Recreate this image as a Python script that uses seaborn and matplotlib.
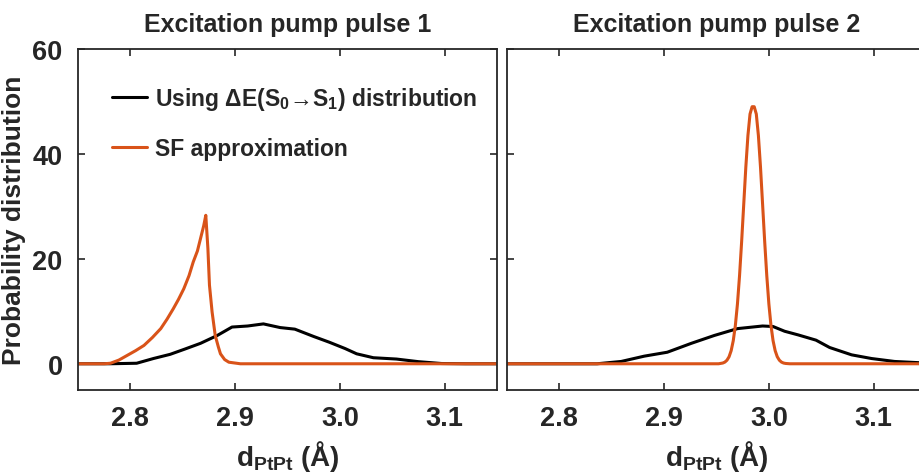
import numpy as np
import pandas as pd
import matplotlib
matplotlib.use("Agg")
import matplotlib.pyplot as plt
import seaborn as sns

# ---- data ----
p1_dist_x = [2.75, 2.78, 2.806, 2.822, 2.838, 2.852, 2.867, 2.883, 2.897, 2.912, 2.927,
             2.943, 2.957, 2.975, 2.990, 3.005, 3.016, 3.032, 3.054, 3.075, 3.097, 3.12, 3.15]
p1_dist_y = [0, 0, 0.1, 1.0, 1.8, 2.8, 3.9, 5.4, 7.0, 7.2, 7.6,
             6.9, 6.6, 5.2, 4.1, 2.9, 1.9, 1.15, 0.9, 0.4, 0.05, 0, 0]

p1_sf_x = [2.75, 2.775, 2.781, 2.789, 2.797, 2.805, 2.813, 2.821, 2.829, 2.835, 2.841,
           2.846, 2.851, 2.856, 2.860, 2.864, 2.867, 2.870, 2.872,
           2.874, 2.8755, 2.878, 2.881, 2.884, 2.886, 2.890, 2.894, 2.905, 3.15]
p1_sf_y = [0, 0, 0.1, 0.7, 1.6, 2.5, 3.5, 5.0, 6.7, 8.5, 10.5,
           12.3, 14.3, 16.8, 19.4, 21.5, 23.9, 26.3, 28.3,
           22.0, 15.0, 9.9, 5.4, 3.2, 1.9, 0.8, 0.3, 0, 0]

p2_dist_x = [2.75, 2.836, 2.859, 2.881, 2.903, 2.926, 2.948, 2.970, 2.994, 3.004, 3.015,
             3.028, 3.045, 3.058, 3.079, 3.098, 3.120, 3.144, 3.16]
p2_dist_y = [0, 0.0, 0.44, 1.45, 2.2, 3.9, 5.4, 6.7, 7.2, 7.1, 6.2,
             5.5, 4.5, 3.1, 1.7, 1.0, 0.44, 0.2, 0.15]

p2_sf_x = [2.75, 2.952, 2.956, 2.958, 2.960, 2.962, 2.964, 2.966, 2.968, 2.970, 2.972,
           2.974, 2.976, 2.978, 2.980, 2.982, 2.984, 2.986, 2.988, 2.990, 2.992,
           2.994, 2.996, 2.998, 3.000, 3.002, 3.004, 3.006, 3.008, 3.010, 3.012,
           3.014, 3.016, 3.020, 3.16]
p2_sf_y = [0, 0.0, 0.14, 0.32, 0.68, 1.34, 2.5, 4.4, 7.3, 11.4, 16.8,
           23.3, 30.4, 37.5, 43.5, 47.6, 49.0, 49.0, 47.6, 43.5, 37.5,
           30.4, 23.3, 16.8, 11.4, 7.3, 4.4, 2.5, 1.34, 0.68, 0.32,
           0.14, 0.06, 0.0, 0]

titles = ["Excitation pump pulse 1", "Excitation pump pulse 2"]
legend_labels = ["Using ΔE(S$_0$→S$_1$) distribution", "SF approximation"]
xticks = [2.8, 2.9, 3.0, 3.1]
yticks = [0, 20, 40, 60]

# ---- style ----
sns.set_theme(style="ticks")
plt.rcParams["font.family"] = ["Liberation Sans", "DejaVu Sans"]
plt.rcParams["font.weight"] = "bold"
plt.rcParams["mathtext.fontset"] = "custom"
plt.rcParams["mathtext.rm"] = "Liberation Sans:bold"
plt.rcParams["mathtext.bf"] = "Liberation Sans:bold"
plt.rcParams["mathtext.it"] = "Liberation Sans:bold"
plt.rcParams["mathtext.default"] = "bf"

BLACK = "#000000"
ORANGE = "#D95319"
SPINE = "#262626"

fig = plt.figure(figsize=(9.2, 4.77), dpi=100)
W, H = 920, 477
ax1 = fig.add_axes([78 / W, 1 - 391 / H, 419 / W, 341 / H])
ax2 = fig.add_axes([507 / W, 1 - 391 / H, 419 / W, 341 / H])

panels = [
    (ax1, p1_dist_x, p1_dist_y, p1_sf_x, p1_sf_y),
    (ax2, p2_dist_x, p2_dist_y, p2_sf_x, p2_sf_y),
]

for i, (ax, dx, dy, sx, sy) in enumerate(panels):
    df_d = pd.DataFrame({"x": dx, "y": dy})
    df_s = pd.DataFrame({"x": sx, "y": sy})
    sns.lineplot(data=df_d, x="x", y="y", ax=ax, color=BLACK, linewidth=2.2,
                 label=legend_labels[0] if i == 0 else None)
    sns.lineplot(data=df_s, x="x", y="y", ax=ax, color=ORANGE, linewidth=2.2,
                 label=legend_labels[1] if i == 0 else None)
    ax.set_xlim(2.75, 3.15)
    ax.set_ylim(-5, 60)
    ax.set_xticks(xticks)
    ax.set_xticklabels([f"{t:.1f}" for t in xticks])
    ax.set_yticks(yticks)
    ax.tick_params(axis="both", direction="in", length=5, width=1.2, color=SPINE,
                   top=True, right=True, labelsize=19.5, pad=11, labelcolor="#262626")
    for sp in ax.spines.values():
        sp.set_visible(True)
        sp.set_linewidth(1.3)
        sp.set_color(SPINE)
    ax.set_title(titles[i], fontsize=18, fontweight="bold", pad=13)
    ax.set_xlabel("d$_{PtPt}$ (Å)", fontsize=20, fontweight="bold", labelpad=5,
                  color="#262626")
    if i == 0:
        ax.set_ylabel("Probability distribution", fontsize=19, fontweight="bold",
                      labelpad=5, color="#262626")
    else:
        ax.set_ylabel("")
        ax.tick_params(axis="y", labelleft=False)

leg = ax1.legend(loc="upper left", bbox_to_anchor=(0.06, 0.922), frameon=False,
                 fontsize=16.5, handlelength=1.5, handletextpad=0.35,
                 labelspacing=1.1, borderaxespad=0)
for t in leg.get_texts():
    t.set_fontweight("bold")
if ax2.legend_ is not None:
    ax2.legend_.remove()

fig.savefig("out.png", dpi=100)
